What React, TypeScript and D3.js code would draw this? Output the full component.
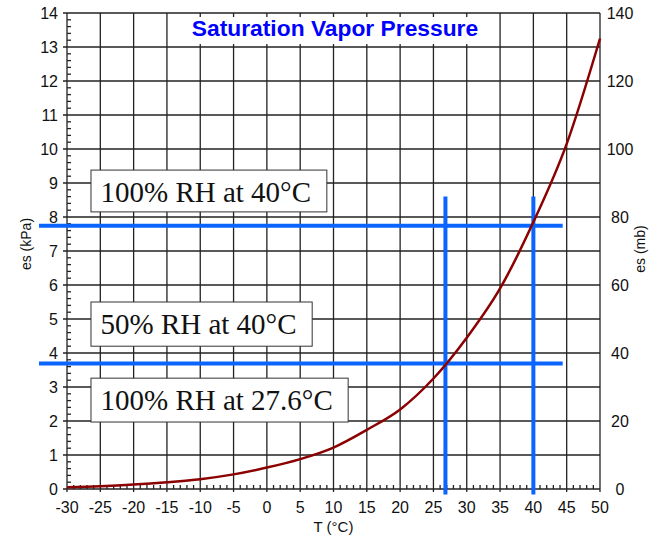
import { useEffect, useRef } from "react";
import * as d3 from "d3";

// curve, kPa at every 5 °C
const TEMPS = [-30, -25, -20, -15, -10, -5, 0, 5, 10, 15, 20, 25, 30, 35, 40, 45, 50];
const ES_KPA = [0.05, 0.08, 0.13, 0.2, 0.29, 0.43, 0.63, 0.88, 1.22, 1.74, 2.34, 3.25, 4.45, 5.9, 7.85, 10.15, 13.25];

const X_TICKS = [-30, -25, -20, -15, -10, -5, 0, 5, 10, 15, 20, 25, 30, 35, 40, 45, 50];
const KPA_TICKS = [0, 1, 2, 3, 4, 5, 6, 7, 8, 9, 10, 11, 12, 13, 14];
const MB_TICKS = [0, 20, 40, 60, 80, 100, 120, 140];

// blue guide lines (data units)
const GUIDE_LEVELS = [7.74, 3.69];
const GUIDE_LEVEL_SPAN = [-34.2, 44.4];
const GUIDE_TEMPS = [26.8, 40];
const GUIDE_TEMP_SPAN = [-0.16, 8.6];

// annotation boxes
const NOTE_TEXTS = ["100% RH at 40°C", "50% RH at 40°C", "100% RH at 27.6°C"];
const NOTE_LEFT = -26.4;
const NOTE_RIGHTS = [9.0, 6.8, 12.2];
const NOTE_TOPS = [9.38, 5.5, 3.26];
const NOTE_BOTTOMS = [8.15, 4.2, 1.97];

const TITLE = "Saturation Vapor Pressure";

const width = 664;
const height = 542;
const marginLeft = 67;
const marginRight = 64;
const marginTop = 13;
const marginBottom = 53;

export default function App() {
  const ref = useRef<SVGSVGElement>(null);

  useEffect(() => {
    if (!ref.current) return;
    const svg = d3.select(ref.current);
    svg.selectAll("*").remove();

    const x = d3.scaleLinear().domain([-30, 50]).range([marginLeft, width - marginRight]);
    const y = d3.scaleLinear().domain([0, 14]).range([height - marginBottom, marginTop]);
    const yMb = d3.scaleLinear().domain([0, 140]).range([height - marginBottom, marginTop]);

    const sans = "'Liberation Sans', Arial, sans-serif";
    const gridColor = "#222";

    // grid
    const grid = svg.append("g").attr("stroke", gridColor).attr("stroke-width", 1.3);
    grid
      .selectAll("line.v")
      .data(X_TICKS)
      .join("line")
      .attr("class", "v")
      .attr("x1", (d) => x(d))
      .attr("x2", (d) => x(d))
      .attr("y1", y(14))
      .attr("y2", y(0) + 3);
    grid
      .selectAll("line.h")
      .data(KPA_TICKS)
      .join("line")
      .attr("class", "h")
      .attr("x1", x(-30) - 4)
      .attr("x2", x(50))
      .attr("y1", (d) => y(d))
      .attr("y2", (d) => y(d));

    // minor ticks
    const minorY = d3
      .range(0, 140)
      .filter((i) => i % 10 !== 0 && i % 2 === 0)
      .map((i) => i / 10);
    grid
      .selectAll("line.my")
      .data(minorY)
      .join("line")
      .attr("class", "my")
      .attr("x1", x(-30))
      .attr("x2", x(-30) + 4)
      .attr("y1", (d) => y(d))
      .attr("y2", (d) => y(d));
    const minorX = d3.range(-30, 50).filter((v) => v % 5 !== 0);
    grid
      .selectAll("line.mx")
      .data(minorX)
      .join("line")
      .attr("class", "mx")
      .attr("x1", (d) => x(d))
      .attr("x2", (d) => x(d))
      .attr("y1", y(0))
      .attr("y2", y(0) - 4);

    // title with white backing
    const titleG = svg.append("g");
    const titleBg = titleG.append("rect").attr("fill", "white");
    const titleText = titleG
      .append("text")
      .attr("x", (x(-30) + x(50)) / 2 + 1.5)
      .attr("y", 36)
      .attr("text-anchor", "middle")
      .attr("font-family", sans)
      .attr("font-weight", "bold")
      .attr("font-size", 22.8)
      .attr("fill", "#0000ff")
      .text(TITLE);
    const tb = (titleText.node() as SVGTextElement).getBBox();
    titleBg
      .attr("x", tb.x - 7)
      .attr("y", 17)
      .attr("width", tb.width + 14)
      .attr("height", 27);

    const tickFont = 16;

    // left axis labels
    svg
      .append("g")
      .attr("font-family", sans)
      .attr("font-size", tickFont)
      .attr("fill", "#111")
      .selectAll("text")
      .data(KPA_TICKS)
      .join("text")
      .attr("x", x(-30) - 9)
      .attr("y", (d) => y(d))
      .attr("dy", "0.36em")
      .attr("text-anchor", "end")
      .text((d) => d);

    // right axis labels
    svg
      .append("g")
      .attr("font-family", sans)
      .attr("font-size", tickFont)
      .attr("fill", "#111")
      .selectAll("text")
      .data(MB_TICKS)
      .join("text")
      .attr("x", x(50) + 20)
      .attr("y", (d) => yMb(d))
      .attr("dy", "0.36em")
      .attr("text-anchor", "middle")
      .text((d) => d);

    // bottom axis labels
    svg
      .append("g")
      .attr("font-family", sans)
      .attr("font-size", tickFont)
      .attr("fill", "#111")
      .selectAll("text")
      .data(X_TICKS)
      .join("text")
      .attr("x", (d) => x(d))
      .attr("y", y(0) + 24)
      .attr("text-anchor", "middle")
      .text((d) => d);

    // axis titles
    svg
      .append("text")
      .attr("x", (x(-30) + x(50)) / 2)
      .attr("y", 532)
      .attr("text-anchor", "middle")
      .attr("font-family", sans)
      .attr("font-size", 15)
      .attr("fill", "#111")
      .text("T (°C)");
    svg
      .append("text")
      .attr("transform", `translate(31,244) rotate(-90)`)
      .attr("text-anchor", "middle")
      .attr("font-family", sans)
      .attr("font-size", 14)
      .attr("fill", "#111")
      .text("es (kPa)");
    svg
      .append("text")
      .attr("transform", `translate(645,249) rotate(-90)`)
      .attr("text-anchor", "middle")
      .attr("font-family", sans)
      .attr("font-size", 14)
      .attr("fill", "#111")
      .text("es (mb)");

    // annotation boxes
    const notes = svg
      .append("g")
      .selectAll("g")
      .data(NOTE_TEXTS)
      .join("g");
    notes
      .append("rect")
      .attr("x", x(NOTE_LEFT))
      .attr("y", (_, i) => y(NOTE_TOPS[i]))
      .attr("width", (_, i) => x(NOTE_RIGHTS[i]) - x(NOTE_LEFT))
      .attr("height", (_, i) => y(NOTE_BOTTOMS[i]) - y(NOTE_TOPS[i]))
      .attr("fill", "white")
      .attr("stroke", "#333")
      .attr("stroke-width", 1);
    notes
      .append("text")
      .attr("x", x(NOTE_LEFT) + 9.5)
      .attr("y", (_, i) => y(NOTE_TOPS[i]) + 32)
      .attr("font-family", "'Liberation Serif', 'Times New Roman', serif")
      .attr("font-size", 29)
      .attr("fill", "#111")
      .text((d) => d);

    // blue guides
    const guides = svg.append("g").attr("stroke", "#0a64ff").attr("stroke-width", 4);
    guides
      .selectAll("line.gh")
      .data(GUIDE_LEVELS)
      .join("line")
      .attr("class", "gh")
      .attr("x1", x(GUIDE_LEVEL_SPAN[0]))
      .attr("x2", x(GUIDE_LEVEL_SPAN[1]))
      .attr("y1", (d) => y(d))
      .attr("y2", (d) => y(d));
    guides
      .selectAll("line.gv")
      .data(GUIDE_TEMPS)
      .join("line")
      .attr("class", "gv")
      .attr("x1", (d) => x(d))
      .attr("x2", (d) => x(d))
      .attr("y1", y(GUIDE_TEMP_SPAN[0]))
      .attr("y2", y(GUIDE_TEMP_SPAN[1]));

    // curve
    const line = d3
      .line<number>()
      .x((_, i) => x(TEMPS[i]))
      .y((d) => y(d))
      .curve(d3.curveMonotoneX);
    svg
      .append("path")
      .attr("fill", "none")
      .attr("stroke", "#8b0000")
      .attr("stroke-width", 2.5)
      .attr("stroke-linejoin", "round")
      .attr("d", line(ES_KPA));
  }, []);

  return (
    <svg
      ref={ref}
      width={width}
      height={height}
      style={{ position: "absolute", left: 0, top: 0, background: "white" }}
    />
  );
}
